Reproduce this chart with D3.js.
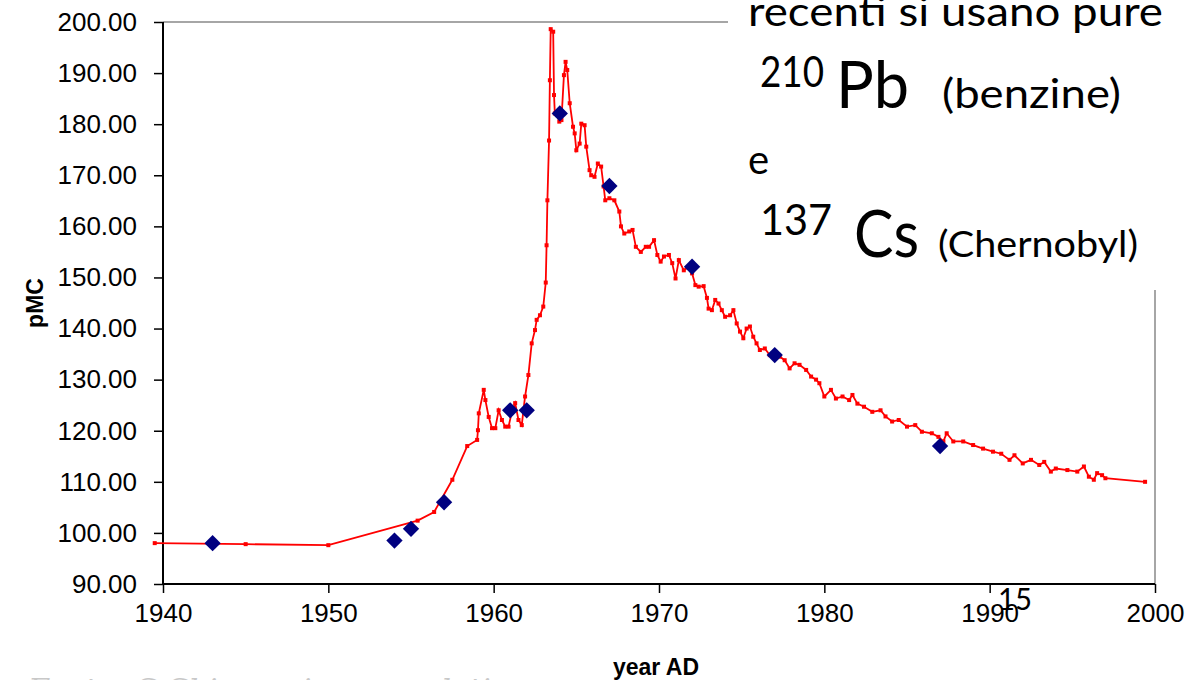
<!DOCTYPE html>
<html>
<head>
<meta charset="utf-8">
<script src="https://cdn.jsdelivr.net/npm/d3@7"></script>
<style>
  body { margin: 0; background: #fff; }
  svg { display: block; }
  .tick text { font-family: "Liberation Sans", Arial, sans-serif; font-size: 26px; fill: #000; }
</style>
</head>
<body>
<svg id="chart"></svg>
<script>
// red curve: atmospheric 14C (pMC) by year
const curveYears = [1939.5, 1945.0, 1950.0, 1955.4, 1956.4, 1957.5, 1958.4, 1959.0, 1959.05, 1959.1,
  1959.4, 1959.5, 1959.7, 1959.9, 1960.1, 1960.3, 1960.5, 1960.7, 1960.9, 1961.1,
  1961.3, 1961.5, 1961.7, 1961.8, 1961.9, 1962.1, 1962.3, 1962.5, 1962.6, 1962.8,
  1963.0, 1963.15, 1963.2, 1963.25, 1963.35, 1963.4, 1963.45, 1963.6, 1963.65, 1963.7,
  1963.85, 1963.97, 1964.1, 1964.25, 1964.35, 1964.45, 1964.6, 1964.8, 1964.9, 1965.0,
  1965.2, 1965.3, 1965.5, 1965.6, 1965.8, 1965.9, 1966.1, 1966.3, 1966.5, 1966.65,
  1966.75, 1967.0, 1967.3, 1967.6, 1967.7, 1967.9, 1968.2, 1968.4, 1968.6, 1968.9,
  1969.2, 1969.4, 1969.7, 1969.9, 1970.1, 1970.3, 1970.6, 1970.8, 1971.0, 1971.2,
  1971.5, 1971.8, 1972.0, 1972.2, 1972.4, 1972.7, 1972.9, 1973.0, 1973.2, 1973.4,
  1973.6, 1973.8, 1974.0, 1974.3, 1974.5, 1974.7, 1974.9, 1975.1, 1975.3, 1975.5,
  1975.7, 1975.9, 1976.1, 1976.4, 1976.7, 1977.0, 1977.3, 1977.6, 1977.9, 1978.2,
  1978.5, 1978.9, 1979.2, 1979.5, 1979.7, 1980.0, 1980.4, 1980.7, 1981.1, 1981.5,
  1981.7, 1982.0, 1982.4, 1982.9, 1983.4, 1983.7, 1984.1, 1984.5, 1985.0, 1985.5,
  1985.9, 1986.5, 1986.9, 1987.2, 1987.4, 1987.8, 1988.4, 1989.0, 1989.6, 1990.2,
  1990.7, 1991.2, 1991.5, 1992.0, 1992.5, 1993.0, 1993.3, 1993.7, 1994.0, 1994.7,
  1995.3, 1995.7, 1996.0, 1996.3, 1996.5, 1996.8, 1997.0, 1999.4];
const curveValues = [98.0, 97.8, 97.6, 102.4, 104.1, 110.4, 117.0, 118.2, 120.1, 123.4,
  128.0, 126.0, 122.7, 120.5, 120.5, 124.0, 122.1, 120.8, 120.8, 123.7,
  125.4, 122.1, 121.1, 124.0, 126.7, 130.9, 137.1, 139.7, 141.7, 142.6,
  144.3, 149.0, 156.3, 165.1, 176.8, 188.6, 198.6, 198.1, 185.7, 182.1,
  181.8, 180.5, 180.8, 189.6, 192.2, 190.6, 184.1, 179.5, 178.2, 174.9,
  176.2, 180.1, 179.8, 175.6, 171.0, 170.0, 169.7, 172.3, 171.7, 167.8,
  165.1, 165.5, 165.1, 162.9, 160.0, 158.6, 159.0, 159.3, 156.0, 155.0,
  156.0, 156.0, 157.3, 154.4, 153.1, 154.1, 154.4, 152.8, 149.8, 153.4,
  151.4, 152.1, 150.8, 148.5, 148.2, 148.3, 146.0, 143.9, 143.6, 145.6,
  144.9, 143.6, 142.3, 142.6, 143.6, 141.0, 139.4, 138.1, 140.0, 140.4,
  138.4, 137.1, 135.8, 136.1, 134.8, 134.8, 134.5, 133.8, 132.2, 133.2,
  132.9, 131.9, 130.6, 130.0, 129.3, 126.7, 128.0, 126.3, 126.7, 126.0,
  127.0, 125.3, 124.7, 123.7, 124.0, 122.8, 121.8, 122.1, 120.8, 121.1,
  119.8, 119.5, 118.8, 117.9, 119.5, 117.9, 117.9, 117.2, 116.5, 115.9,
  115.5, 114.3, 115.2, 113.6, 114.3, 113.3, 113.9, 112.0, 112.6, 112.3,
  112.0, 113.0, 111.0, 110.4, 111.7, 111.3, 110.7, 110.0];

// blue diamonds: measured samples
const sampleYears = [1943, 1954, 1955, 1957, 1961, 1962, 1964, 1967, 1972, 1977, 1987];
const sampleValues = [98.0, 98.5, 100.8, 106.0, 124.0, 124.0, 182.1, 167.9, 152.1, 134.8, 117.0];

const yTicks = [90, 100, 110, 120, 130, 140, 150, 160, 170, 180, 190, 200];
const xTicks = [1940, 1950, 1960, 1970, 1980, 1990, 2000];

const W = 1186, H = 680;
const margin = {top: 22, left: 163, right: 31, bottom: 96};
const iw = W - margin.left - margin.right, ih = H - margin.top - margin.bottom;

const svg = d3.select("#chart").attr("width", W).attr("height", H);

const x = d3.scaleLinear().domain([1940, 2000]).range([margin.left, margin.left + iw]);
const y = d3.scaleLinear().domain([90, 200]).range([margin.top + ih, margin.top]);

// plot frame (top/right grey)
svg.append("line").attr("x1", x(1940)).attr("x2", x(2000)).attr("y1", y(200)).attr("y2", y(200))
  .attr("stroke", "#888").attr("stroke-width", 1.5);
svg.append("line").attr("x1", x(2000)).attr("x2", x(2000)).attr("y1", y(200)).attr("y2", y(90))
  .attr("stroke", "#888").attr("stroke-width", 1.5);

// axes
const yAxis = svg.append("g").attr("transform", `translate(${margin.left},0)`)
  .call(d3.axisLeft(y).tickValues(yTicks).tickFormat(d => d.toFixed(2)).tickSize(9).tickPadding(17));
const xAxis = svg.append("g").attr("transform", `translate(0,${margin.top + ih})`)
  .call(d3.axisBottom(x).tickValues(xTicks).tickFormat(d3.format("d")).tickSize(9).tickPadding(11));
[yAxis, xAxis].forEach(g => {
  g.select(".domain").attr("stroke", "#000").attr("stroke-width", 2);
  g.selectAll(".tick line").attr("stroke", "#000").attr("stroke-width", 1.5);
});
xAxis.select(".domain").attr("d", `M${x(1940)},0H${x(2000)}`);
yAxis.select(".domain").attr("d", `M0,${y(90)}V${y(200)}`);

// red curve
const pts = curveYears.map((d, i) => [d, curveValues[i]]);
svg.append("path")
  .datum(pts)
  .attr("fill", "none")
  .attr("stroke", "#ff0000")
  .attr("stroke-width", 1.8)
  .attr("d", d3.line().x(d => x(d[0])).y(d => y(d[1])));
svg.append("g").selectAll("rect").data(pts).join("rect")
  .attr("x", d => x(d[0]) - 2).attr("y", d => y(d[1]) - 2)
  .attr("width", 4).attr("height", 4).attr("fill", "#ff0000");

// samples
svg.append("g").selectAll("path").data(sampleYears).join("path")
  .attr("d", d3.symbol().type(d3.symbolDiamond2).size(170))
  .attr("transform", (d, i) => `translate(${x(d)},${y(sampleValues[i])})`)
  .attr("fill", "#000080");

// axis titles
svg.append("text")
  .attr("transform", `translate(43,${y(145)}) rotate(-90)`)
  .attr("text-anchor", "middle")
  .style("font-family", "Liberation Sans, Arial, sans-serif")
  .style("font-weight", "bold").style("font-size", "23px")
  .text("pMC");
svg.append("text")
  .attr("x", 656).attr("y", 675)
  .attr("text-anchor", "middle")
  .style("font-family", "Liberation Sans, Arial, sans-serif")
  .style("font-weight", "bold").style("font-size", "23px")
  .text("year AD");

// slide text box over the top-right corner
svg.append("rect").attr("x", 728).attr("y", 0).attr("width", W - 728).attr("height", 290).attr("fill", "#fff");

const note = svg.append("g").style("font-family", "Lato, 'Open Sans', sans-serif").attr("fill", "#000");
note.append("text").attr("x", 748).attr("y", 26).style("font-size", "40px")
  .attr("textLength", 415).attr("lengthAdjust", "spacingAndGlyphs")
  .text("recenti si usano  pure");
note.append("text").attr("x", 760).attr("y", 87).style("font-size", "43px")
  .attr("textLength", 64).attr("lengthAdjust", "spacingAndGlyphs").text("210");
note.append("text").attr("x", 836).attr("y", 108).style("font-size", "66px")
  .attr("textLength", 73).attr("lengthAdjust", "spacingAndGlyphs").text("Pb");
note.append("text").attr("x", 942).attr("y", 108).style("font-size", "40px")
  .attr("textLength", 179).attr("lengthAdjust", "spacingAndGlyphs").text("(benzine)");
note.append("text").attr("x", 748).attr("y", 174).style("font-size", "40px").text("e");
note.append("text").attr("x", 760).attr("y", 235).style("font-size", "42px")
  .attr("textLength", 72).attr("lengthAdjust", "spacingAndGlyphs").text("137");
note.append("text").attr("x", 854).attr("y", 257).style("font-size", "66px")
  .attr("textLength", 65).attr("lengthAdjust", "spacingAndGlyphs").text("Cs");
note.append("text").attr("x", 938).attr("y", 257).style("font-size", "37px")
  .attr("textLength", 200).attr("lengthAdjust", "spacingAndGlyphs").text("(Chernobyl)");

// slide number
svg.append("text").attr("x", 998).attr("y", 610)
  .style("font-family", "Lato, 'Open Sans', sans-serif").style("font-size", "31px")
  .attr("textLength", 34).attr("lengthAdjust", "spacingAndGlyphs").text("15");

// source line, mostly cut off at the bottom edge
svg.append("text").attr("x", 28).attr("y", 700)
  .style("font-family", "DejaVu Serif, serif").style("font-style", "italic")
  .style("font-size", "30px").attr("fill", "#c8c8c8")
  .text("Fonte: C.Chiesa, ricerca e dati");
</script>
</body>
</html>
